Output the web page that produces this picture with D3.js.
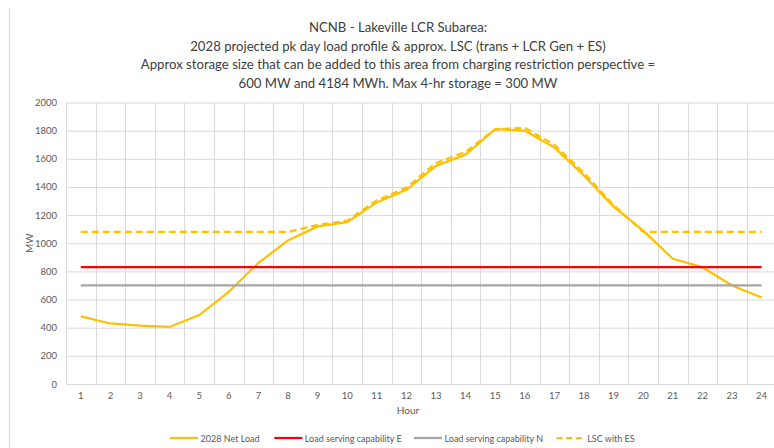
<!DOCTYPE html>
<html>
<head>
<meta charset="utf-8">
<script src="https://cdnjs.cloudflare.com/ajax/libs/d3/7.8.5/d3.min.js"></script>
<style>
  body { margin: 0; background: #fff; }
  svg { display: block; font-family: Lato, "Open Sans", sans-serif; }
</style>
</head>
<body>
<div id="chart"></div>
<script>
/* ---------------------- Data ---------------------- */
var hours = [1, 2, 3, 4, 5, 6, 7, 8, 9, 10, 11, 12, 13, 14, 15, 16, 17, 18, 19, 20, 21, 22, 23, 24];
var netLoad = [480, 430, 415, 405, 490, 655, 860, 1020, 1120, 1150, 1290, 1380, 1550, 1630, 1810, 1800, 1680, 1480, 1260, 1090, 890, 830, 700, 615];
var lscE = [830, 830, 830, 830, 830, 830, 830, 830, 830, 830, 830, 830, 830, 830, 830, 830, 830, 830, 830, 830, 830, 830, 830, 830];
var lscN = [700, 700, 700, 700, 700, 700, 700, 700, 700, 700, 700, 700, 700, 700, 700, 700, 700, 700, 700, 700, 700, 700, 700, 700];
var lscES = [1080, 1080, 1080, 1080, 1080, 1080, 1080, 1080, 1130, 1160, 1305, 1395, 1570, 1650, 1810, 1820, 1700, 1500, 1270, 1080, 1080, 1080, 1080, 1080];
var yTicks = [0, 200, 400, 600, 800, 1000, 1200, 1400, 1600, 1800, 2000];

var titleLines = [
    "NCNB - Lakeville LCR Subarea:",
    "2028 projected pk day load profile & approx. LSC (trans + LCR Gen + ES)",
    "Approx storage size that can be added to this area from charging restriction perspective =",
    "600 MW and 4184 MWh. Max 4-hr storage = 300 MW"
];

var series = [
    {name: "2028 Net Load", values: netLoad, color: "#FFC000", dash: null},
    {name: "Load serving capability E", values: lscE, color: "#FF0000", dash: null},
    {name: "Load serving capability N", values: lscN, color: "#A5A5A5", dash: null},
    {name: "LSC with ES", values: lscES, color: "#FFC000", dash: "7,4"}
];

/* ---------------------- Layout ---------------------- */
var width = 774, height = 448;
var plot = {left: 66, right: 776.4, top: 102.5, bottom: 384};

var svg = d3.select("#chart").append("svg")
    .attr("width", width)
    .attr("height", height);

// Outer chart border (left edge visible)
svg.append("line")
    .attr("x1", 9.5).attr("x2", 9.5)
    .attr("y1", 8).attr("y2", height)
    .attr("stroke", "#D9D9D9");

// Scales
var xScale = d3.scaleBand()
    .domain(hours)
    .range([plot.left, plot.right])
    .padding(0);

var yScale = d3.scaleLinear()
    .domain([0, 2000])
    .range([plot.bottom, plot.top]);

// Horizontal grid
svg.append("g")
    .attr("class", "y-grid")
    .attr("transform", `translate(${plot.left}, 0)`)
    .call(d3.axisLeft(yScale).tickValues(yTicks).tickSize(-(plot.right - plot.left)).tickFormat(""))
    .call(g => g.select(".domain").remove())
    .call(g => g.selectAll("line").attr("stroke", "#D9D9D9"));

// Vertical grid on category boundaries
var bounds = hours.map(h => xScale(h)).concat([plot.right]);
svg.append("g")
    .attr("class", "x-grid")
    .selectAll("line")
    .data(bounds)
    .enter()
    .append("line")
    .attr("x1", d => Math.round(d) + 0.5)
    .attr("x2", d => Math.round(d) + 0.5)
    .attr("y1", plot.top)
    .attr("y2", plot.bottom)
    .attr("stroke", "#D9D9D9");

// Y axis labels
svg.append("g")
    .attr("class", "y-axis")
    .attr("transform", `translate(${plot.left - 9}, 0)`)
    .call(d3.axisLeft(yScale).tickValues(yTicks).tickSize(0).tickPadding(0).tickFormat(d3.format("d")))
    .call(g => g.select(".domain").remove())
    .call(g => g.selectAll("text")
        .attr("fill", "#595959")
        .style("font-size", "9.5px")
        .style("font-family", "Lato, sans-serif"));

// X axis labels
svg.append("g")
    .attr("class", "x-axis")
    .attr("transform", `translate(0, ${plot.bottom})`)
    .call(d3.axisBottom(xScale).tickSize(0).tickPadding(8))
    .call(g => g.select(".domain").attr("stroke", "#D9D9D9"))
    .call(g => g.selectAll("text")
        .attr("fill", "#595959")
        .style("font-size", "9.5px")
        .style("font-family", "Lato, sans-serif"));

// Axis titles
svg.append("text")
    .attr("x", (plot.left + 752) / 2 - 1)
    .attr("y", 414)
    .attr("text-anchor", "middle")
    .attr("fill", "#595959")
    .style("font-size", "10px")
    .text("Hour");

svg.append("text")
    .attr("transform", `translate(33, ${(plot.top + plot.bottom) / 2}) rotate(-90)`)
    .attr("text-anchor", "middle")
    .attr("fill", "#595959")
    .style("font-size", "10px")
    .text("MW");

// Lines
var line = d3.line()
    .x((d, i) => xScale(hours[i]) + xScale.bandwidth() / 2)
    .y(d => yScale(d));

svg.append("g")
    .attr("class", "series")
    .selectAll("path")
    .data(series)
    .enter()
    .append("path")
    .attr("d", d => line(d.values))
    .attr("fill", "none")
    .attr("stroke", d => d.color)
    .attr("stroke-width", 2.25)
    .attr("stroke-dasharray", d => d.dash)
    .attr("stroke-linejoin", "round");

// Title
var title = svg.append("g").attr("class", "title");
title.selectAll("text")
    .data(titleLines)
    .enter()
    .append("text")
    .attr("x", 398)
    .attr("y", (d, i) => 32 + i * 18.6)
    .attr("text-anchor", "middle")
    .attr("fill", "#404040")
    .style("font-size", "14px")
    .text(d => d);

// Fit the title font to the reference width of the longest line
var longest = title.selectAll("text").nodes()[2];
var measured = longest.getComputedTextLength();
title.selectAll("text").style("font-size", (14 * 515 / measured) + "px");

// Legend
var legendPos = [170, 274.3, 414, 556.7];
var legend = svg.append("g")
    .attr("class", "legend")
    .selectAll("g")
    .data(series)
    .enter()
    .append("g")
    .attr("transform", (d, i) => `translate(${legendPos[i]}, 438)`);

legend.append("line")
    .attr("x1", 0).attr("x2", 28)
    .attr("y1", 0).attr("y2", 0)
    .attr("stroke", d => d.color)
    .attr("stroke-width", 2.25)
    .attr("stroke-dasharray", d => d.dash ? "6,3.5" : null);

legend.append("text")
    .attr("x", 30.5)
    .attr("y", 3.5)
    .attr("fill", "#595959")
    .style("font-size", "9px")
    .text(d => d.name);
</script>
</body>
</html>
